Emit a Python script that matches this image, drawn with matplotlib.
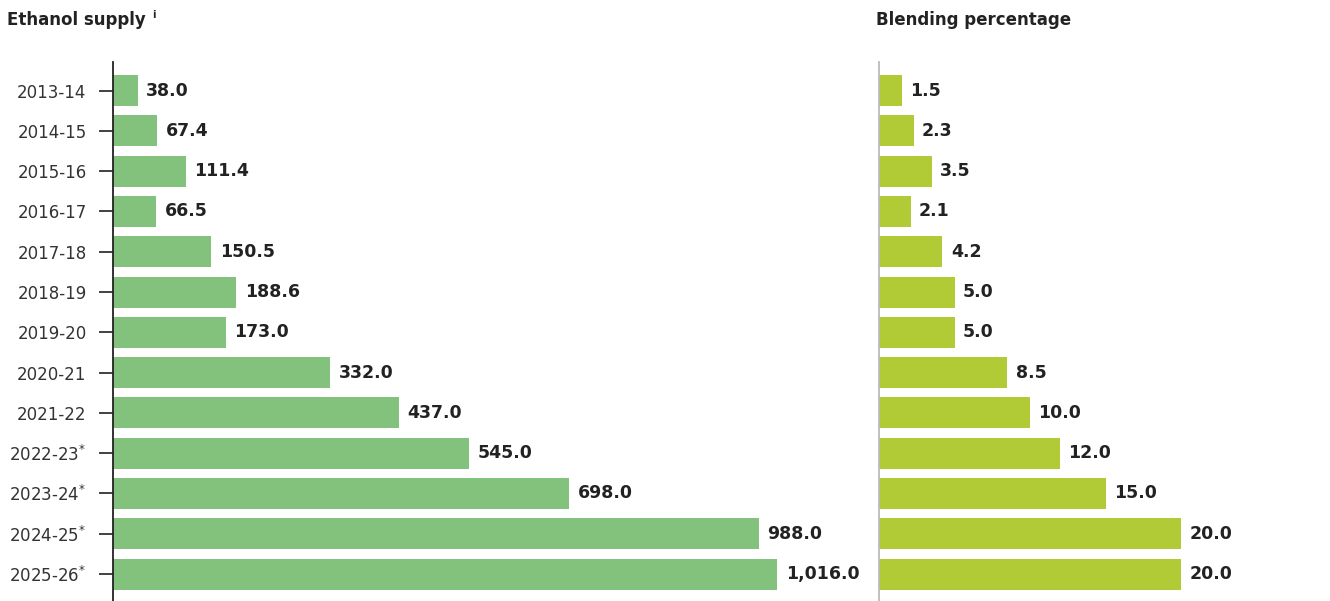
import matplotlib
matplotlib.use("Agg")
import matplotlib.pyplot as plt

years = ["2013-14", "2014-15", "2015-16", "2016-17", "2017-18", "2018-19", "2019-20",
         "2020-21", "2021-22", "2022-23", "2023-24", "2024-25", "2025-26"]
projected = [False] * 9 + [True] * 4
supply = [38.0, 67.4, 111.4, 66.5, 150.5, 188.6, 173.0, 332.0, 437.0, 545.0, 698.0, 988.0, 1016.0]
blending = [1.5, 2.3, 3.5, 2.1, 4.2, 5.0, 5.0, 8.5, 10.0, 12.0, 15.0, 20.0, 20.0]

plt.rcParams['font.family'] = ['DejaVu Sans']
W, H = 1330, 601
fig = plt.figure(figsize=(W / 100, H / 100), dpi=100)

txt = "#222222"
ax1 = fig.add_axes([113 / W, 0, (860 - 113) / W, 1 - 62 / H])
ax2 = fig.add_axes([879 / W, 0, (1330 - 879) / W, 1 - 62 / H])

ylim = (12.67, -0.71)
pos = list(range(len(years)))

ax1.barh(pos, supply, height=0.77, color="#82C27C")
ax1.set_xlim(0, (860 - 113) / 0.654)
ax1.set_ylim(*ylim)
labels = [y + (r"$^{*}$" if p else "") for y, p in zip(years, projected)]
ax1.set_yticks(pos)
ax1.set_yticklabels(labels, fontsize=12, color="#333333")
ax1.tick_params(axis='y', length=10, width=1.3, color="#333333", pad=9)
ax1.set_xticks([])
for s in ["top", "right", "bottom"]:
    ax1.spines[s].set_visible(False)
ax1.spines["left"].set_color("#222222")
ax1.spines["left"].set_linewidth(1.3)
for i, v in enumerate(supply):
    ax1.annotate(f"{v:,.1f}", (v, i), xytext=(6, 0), textcoords="offset points",
                 va="center", ha="left", fontsize=12.5, fontweight="heavy", color=txt)

ax2.barh(pos, blending, height=0.77, color="#B0CB36")
ax2.set_xlim(0, (1330 - 879) / 15.1)
ax2.set_ylim(*ylim)
ax2.set_yticks([])
ax2.set_xticks([])
for s in ["top", "right", "bottom"]:
    ax2.spines[s].set_visible(False)
ax2.spines["left"].set_color("#BBBBBB")
ax2.spines["left"].set_linewidth(1.3)
for i, v in enumerate(blending):
    ax2.annotate(f"{v:,.1f}", (v, i), xytext=(6, 0), textcoords="offset points",
                 va="center", ha="left", fontsize=12.5, fontweight="heavy", color=txt)

fig.text(7 / W, 1 - 20 / H, r"Ethanol supply", fontsize=12, fontweight="heavy",
         color=txt, va="center", ha="left")
fig.text(152 / W, 1 - 15 / H, "i", fontsize=7, fontweight="bold", color=txt, va="center", ha="left")
fig.text(876 / W, 1 - 20 / H, "Blending percentage", fontsize=12, fontweight="heavy",
         color=txt, va="center", ha="left")

fig.savefig("out.png", dpi=100)
